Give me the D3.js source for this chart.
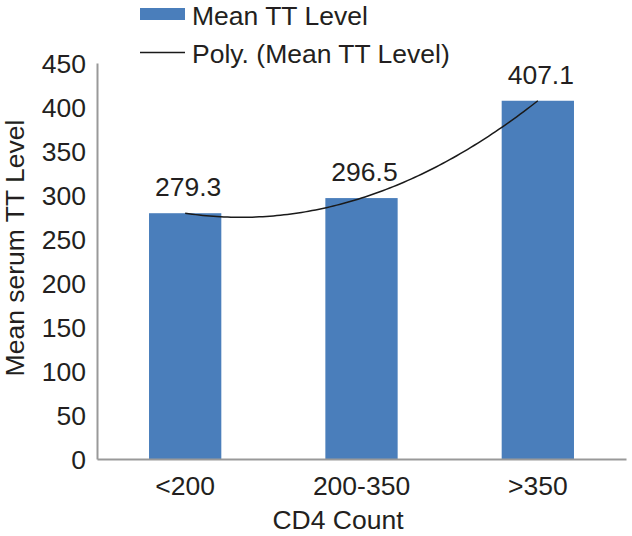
<!DOCTYPE html>
<html>
<head>
<meta charset="utf-8">
<script src="https://cdn.jsdelivr.net/npm/d3@7/dist/d3.min.js"></script>
<style>
  html, body { margin: 0; padding: 0; background: #fff; }
  svg { display: block; font-family: Arial, "Liberation Sans", sans-serif; }
  text { fill: #231f20; }
</style>
</head>
<body>
<svg id="chart" width="632" height="536"></svg>
<script>
const categories = ['<200', '200-350', '>350'];
const meanTT = [279.3, 296.5, 407.1];
const yTicks = [0, 50, 100, 150, 200, 250, 300, 350, 400, 450];

const barColor = '#4a7ebb';
const axisColor = '#999999';
const fontSize = 26.5;
const margin = { top: 63, right: 6, bottom: 77, left: 97 };
const width = 632, height = 536;

const svg = d3.select('#chart');
const innerW = width - margin.left - margin.right;
const innerH = height - margin.top - margin.bottom;
const plot = svg.append('g').attr('transform', `translate(${margin.left},${margin.top})`);

const x = d3.scaleBand().domain(categories).range([0, innerW]).paddingInner(0.59).paddingOuter(0.295);
const y = d3.scaleLinear().domain([0, 450]).range([innerH, 0]);

// y tick labels, no tick marks
const yAxis = plot.append('g')
  .call(d3.axisLeft(y).tickValues(yTicks).tickSize(0).tickPadding(11));
yAxis.select('.domain').attr('stroke', axisColor).attr('stroke-width', 2);
yAxis.selectAll('text').attr('font-size', fontSize).attr('fill', '#231f20').attr('dy', '0.36em');

// bars
plot.append('g').selectAll('rect').data(meanTT).join('rect')
  .attr('x', (d, i) => x(categories[i]))
  .attr('y', (d) => y(d))
  .attr('width', x.bandwidth())
  .attr('height', (d) => innerH - y(d))
  .attr('fill', barColor);

// x axis
const xAxis = plot.append('g').attr('transform', `translate(0,${innerH})`)
  .call(d3.axisBottom(x).tickSize(0).tickPadding(17));
xAxis.select('.domain').attr('stroke', axisColor).attr('stroke-width', 2);
xAxis.selectAll('text').attr('font-size', fontSize).attr('fill', '#231f20').attr('dy', '0.71em');

// data labels
plot.append('g').selectAll('text').data(meanTT).join('text')
  .attr('x', (d, i) => x(categories[i]) + x.bandwidth() / 2 + 3)
  .attr('y', (d) => y(d) - 17)
  .attr('text-anchor', 'middle')
  .attr('font-size', fontSize)
  .text((d) => d.toFixed(1));

// polynomial (order 2) trendline fitted to the bar values, as Excel does
const xs = meanTT.map((d, i) => i + 1);
function polyFit2(px, py) {
  const n = px.length;
  const s = (k) => d3.sum(px, (v) => Math.pow(v, k));
  const t = (k) => d3.sum(px, (v, i) => Math.pow(v, k) * py[i]);
  const A = [[n, s(1), s(2)], [s(1), s(2), s(3)], [s(2), s(3), s(4)]];
  const B = [t(0), t(1), t(2)];
  // gaussian elimination
  for (let c = 0; c < 3; c++) {
    for (let r = c + 1; r < 3; r++) {
      const f = A[r][c] / A[c][c];
      for (let k = c; k < 3; k++) A[r][k] -= f * A[c][k];
      B[r] -= f * B[c];
    }
  }
  const coef = [0, 0, 0];
  for (let r = 2; r >= 0; r--) {
    let acc = B[r];
    for (let k = r + 1; k < 3; k++) acc -= A[r][k] * coef[k];
    coef[r] = acc / A[r][r];
  }
  return (v) => coef[0] + coef[1] * v + coef[2] * v * v;
}
const trend = polyFit2(xs, meanTT);
const catX = d3.scaleLinear().domain([1, 3])
  .range([x(categories[0]) + x.bandwidth() / 2, x(categories[2]) + x.bandwidth() / 2]);
const trendPts = d3.range(1, 3.0001, 0.02);
plot.append('path')
  .datum(trendPts)
  .attr('fill', 'none')
  .attr('stroke', '#1a1a1a')
  .attr('stroke-width', 1.5)
  .attr('d', d3.line().x((v) => catX(v)).y((v) => y(trend(v))));

// axis titles
svg.append('text')
  .attr('transform', `translate(24,${248}) rotate(-90)`)
  .attr('text-anchor', 'middle')
  .attr('font-size', fontSize)
  .text('Mean serum TT Level');
svg.append('text')
  .attr('x', 338).attr('y', 529)
  .attr('text-anchor', 'middle')
  .attr('font-size', fontSize)
  .text('CD4 Count');

// legend
const legend = svg.append('g');
legend.append('rect').attr('x', 140).attr('y', 8).attr('width', 45).attr('height', 12).attr('fill', barColor);
legend.append('text').attr('x', 192).attr('y', 24.5).attr('font-size', fontSize).text('Mean TT Level');
legend.append('line').attr('x1', 140).attr('x2', 185).attr('y1', 52.5).attr('y2', 52.5)
  .attr('stroke', '#1a1a1a').attr('stroke-width', 1.5);
legend.append('text').attr('x', 192).attr('y', 63).attr('font-size', fontSize).text('Poly. (Mean TT Level)');
</script>
</body>
</html>
